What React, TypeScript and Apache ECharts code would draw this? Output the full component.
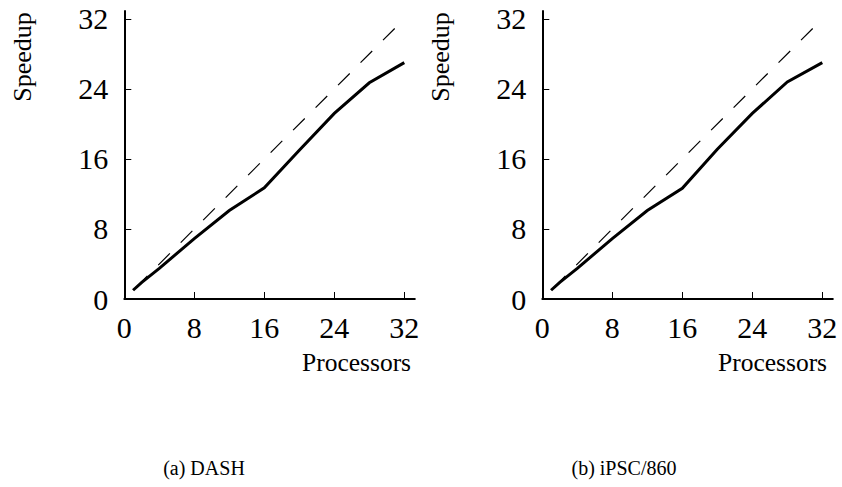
import React, { useEffect, useRef } from "react";
import * as echarts from "echarts";

const tickValues = [0, 8, 16, 24, 32];
const processors = [1, 2, 4, 8, 12, 16, 20, 24, 28, 32];
const speedupDash = [1, 1.9, 3.5, 6.9, 10.1, 12.7, 17.0, 21.2, 24.7, 27.0];
const speedupIpsc = [1, 1.9, 3.5, 6.9, 10.1, 12.65, 17.1, 21.2, 24.8, 27.0];
const idealX = [1, 32];
const captions = ["(a) DASH", "(b) iPSC/860"];
const axisTitles = { x: "Processors", y: "Speedup" };

const FONT = "'Liberation Serif', 'Times New Roman', serif";

export default function App() {
  const ref = useRef<HTMLDivElement>(null);
  useEffect(() => {
    if (!ref.current) return;
    const chart = echarts.init(ref.current, null, { renderer: "svg" });
    const grids = [
      { left: 124.3, top: 11, width: 290.5, height: 288 },
      { left: 542.3, top: 11, width: 290.5, height: 288 },
    ];
    const xAxis = grids.map((_, i) => ({
      type: "value",
      gridIndex: i,
      min: 0,
      max: 33.2,
      axisLine: { show: true, onZero: false, lineStyle: { color: "#000", width: 2 } },
      axisTick: { show: true, inside: true, length: 7, customValues: tickValues, lineStyle: { color: "#000", width: 1 } },
      axisLabel: { customValues: tickValues, fontSize: 30, fontFamily: FONT, color: "#000", margin: 13 },
      splitLine: { show: false },
    }));
    const yAxis = grids.map((_, i) => ({
      type: "value",
      gridIndex: i,
      min: 0,
      max: 32.9,
      axisLine: { show: true, onZero: false, lineStyle: { color: "#000", width: 2 } },
      axisTick: { show: true, inside: true, length: 7, customValues: tickValues, lineStyle: { color: "#000", width: 1 } },
      axisLabel: { customValues: tickValues, fontSize: 30, fontFamily: FONT, color: "#000", margin: 16 },
      splitLine: { show: false },
    }));
    const measured = [speedupDash, speedupIpsc];
    const series: any[] = [];
    measured.forEach((vals, i) => {
      series.push({
        type: "line",
        xAxisIndex: i,
        yAxisIndex: i,
        data: idealX.map((x) => [x, x]),
        symbol: "none",
        z: 2,
        lineStyle: { color: "#000", width: 1.2, type: [16.5, 15.3], dashOffset: 28.1 },
      });
      series.push({
        type: "line",
        xAxisIndex: i,
        yAxisIndex: i,
        data: processors.map((p, k) => [p, vals[k]]),
        symbol: "none",
        z: 3,
        lineStyle: { color: "#000", width: 3, join: "miter" },
      });
    });
    const graphic: any[] = [];
    [22, 440].forEach((cx) => {
      graphic.push({
        type: "text",
        x: cx,
        y: 57,
        rotation: Math.PI / 2,
        style: { text: axisTitles.y, fontSize: 26, fontFamily: FONT, fill: "#000", align: "center", verticalAlign: "middle" },
      });
    });
    [356.5, 772.5].forEach((cx) => {
      graphic.push({
        type: "text",
        x: cx,
        y: 362,
        style: { text: axisTitles.x, fontSize: 25.5, fontFamily: FONT, fill: "#000", align: "center", verticalAlign: "middle" },
      });
    });
    [204, 624].forEach((cx, i) => {
      graphic.push({
        type: "text",
        x: cx,
        y: 468,
        style: { text: captions[i], fontSize: 20, fontFamily: FONT, fill: "#000", align: "center", verticalAlign: "middle" },
      });
    });
    chart.setOption({
      animation: false,
      backgroundColor: "#fff",
      grid: grids,
      xAxis,
      yAxis,
      series,
      graphic,
    });
    return () => chart.dispose();
  }, []);
  return <div ref={ref} style={{ position: "absolute", left: 0, top: 0, width: 842, height: 487 }} />;
}
